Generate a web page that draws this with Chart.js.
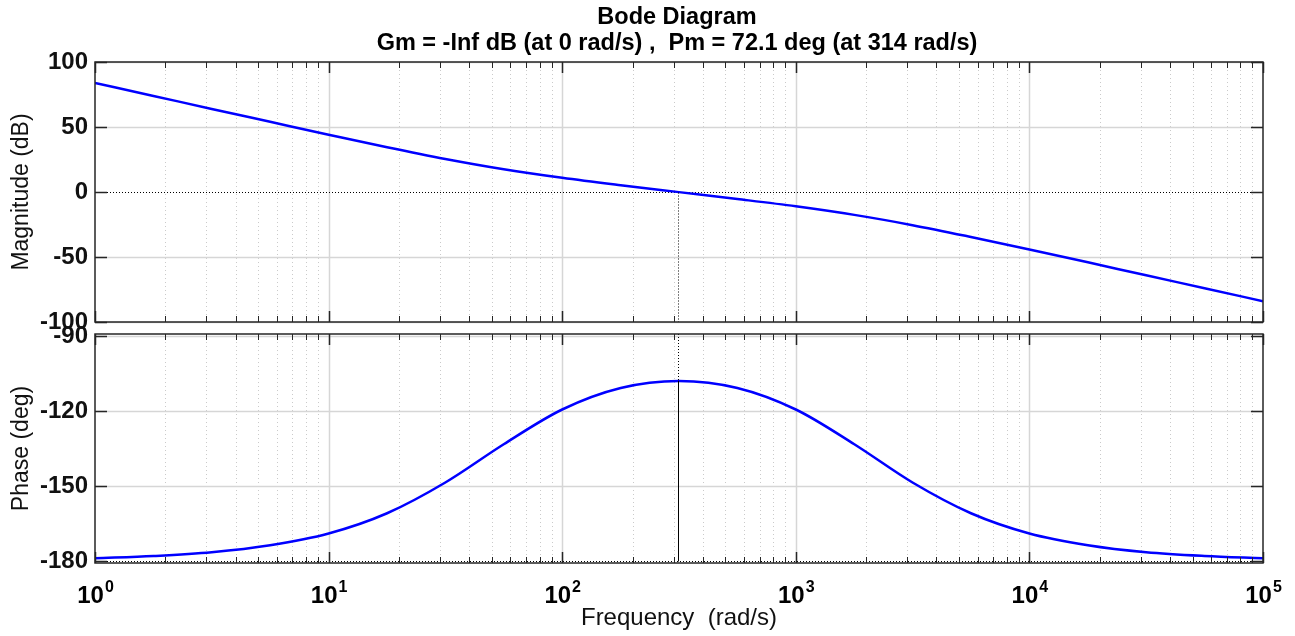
<!DOCTYPE html>
<html>
<head>
<meta charset="utf-8">
<script src="https://cdn.jsdelivr.net/npm/chart.js@4.4.0/dist/chart.umd.min.js"></script>
<style>
    html, body { margin: 0; padding: 0; background: #fff; }
    #wrap { position: relative; width: 1295px; height: 636px; }
    .box { position: absolute; left: 0; width: 1295px; }
    #magBox { top: 0; height: 340px; }
    #phaseBox { top: 300px; height: 336px; }
</style>
</head>
<body>
<div id="wrap">
    <div class="box" id="magBox"><canvas id="magChart" width="1295" height="340"></canvas></div>
    <div class="box" id="phaseBox"><canvas id="phaseChart" width="1295" height="336"></canvas></div>
</div>
<script>
// values (rad/s, dB, deg)
const freqs = [1, 1.78, 3.16, 5.62, 10, 17.8, 31.6, 56.2, 100, 178, 316, 562, 1000, 1780, 3160, 5620, 10000, 17800, 31600, 56200, 100000];
const magDb = [83.9, 73.9, 63.9, 54.0, 44.1, 34.4, 25.4, 17.5, 10.9, 5.2, -0.1, -5.4, -11.0, -17.6, -25.5, -34.6, -44.2, -54.1, -64.1, -74.0, -84.0];
const phaseDeg = [-178.9, -178.0, -176.5, -173.7, -169.0, -160.9, -148.6, -133.3, -119.4, -110.8, -108.0, -110.8, -119.4, -133.3, -148.6, -160.9, -169.0, -173.7, -176.5, -178.0, -178.9];

const decades = [1, 10, 100, 1000, 10000, 100000];
const magTicks = [-100, -50, 0, 50, 100];
const phaseTicks = [-180, -150, -120, -90];
const pmFreq = 314;
const pmDeg = 72.1;
const titleLines = ['Bode Diagram', 'Gm = -Inf dB (at 0 rad/s) ,  Pm = 72.1 deg (at 314 rad/s)'];

const FONT = "'Liberation Sans', Arial, sans-serif";
Chart.defaults.font.family = FONT;

const minorFreqs = [];
decades.slice(0, -1).forEach(d => {
    for (let k = 2; k <= 9; k++) minorFreqs.push(d * k);
});

const px = (s, v) => Math.round(s.getPixelForValue(v)) + 0.5;

function vline(ctx, x, y0, y1) {
    ctx.beginPath(); ctx.moveTo(x, y0); ctx.lineTo(x, y1); ctx.stroke();
}
function hline(ctx, x0, x1, y) {
    ctx.beginPath(); ctx.moveTo(x0, y); ctx.lineTo(x1, y); ctx.stroke();
}

// MATLAB-like grid, box, inward ticks and margin markers
const bodeAxes = {
    id: 'bodeAxes',
    beforeDatasetsDraw(chart, args, opts) {
        const { ctx, chartArea: a, scales: { x, y } } = chart;
        ctx.save();
        ctx.lineWidth = 1;
        ctx.strokeStyle = '#cacaca';
        ctx.setLineDash([1, 3]);
        minorFreqs.forEach(f => vline(ctx, px(x, f), a.top, a.bottom));
        ctx.setLineDash([]);
        ctx.strokeStyle = '#d6d6d6';
        ctx.lineWidth = 1.5;
        decades.slice(1, -1).forEach(f => vline(ctx, px(x, f), a.top, a.bottom));
        opts.ticks.forEach(v => {
            if (v !== opts.refLine) hline(ctx, a.left, a.right, px(y, v));
        });
        ctx.strokeStyle = '#000';
        ctx.lineWidth = 1;
        ctx.setLineDash([1, 2]);
        hline(ctx, a.left, a.right, px(y, opts.refLine));
        ctx.restore();
    },
    afterDatasetsDraw(chart, args, opts) {
        const { ctx, chartArea: a, scales: { x, y } } = chart;
        ctx.save();
        const xm = px(x, pmFreq);
        ctx.strokeStyle = '#000';
        ctx.lineWidth = 1;
        ctx.setLineDash([1, 2]);
        if (opts.kind === 'mag') {
            vline(ctx, xm, px(y, 0), a.bottom);
        } else {
            const yp = y.getPixelForValue(-180 + pmDeg);
            vline(ctx, xm, a.top, yp);
            ctx.setLineDash([]);
            vline(ctx, xm, yp, px(y, -180));
        }
        ctx.setLineDash([]);

        // inward ticks
        ctx.strokeStyle = '#262626';
        ctx.lineWidth = 1;
        minorFreqs.forEach(f => {
            const xx = px(x, f);
            vline(ctx, xx, a.top, a.top + 6);
            vline(ctx, xx, a.bottom, a.bottom - 6);
        });
        ctx.lineWidth = 1.5;
        decades.forEach(f => {
            const xx = px(x, f);
            vline(ctx, xx, a.top, a.top + 11);
            vline(ctx, xx, a.bottom, a.bottom - 11);
        });
        opts.ticks.forEach(v => {
            const yy = px(y, v);
            hline(ctx, a.left, a.left + 12, yy);
            hline(ctx, a.right, a.right - 12, yy);
        });

        ctx.strokeStyle = '#262626';
        ctx.lineWidth = 1.5;
        ctx.strokeRect(a.left, a.top, a.right - a.left, a.bottom - a.top);
        ctx.restore();
    },
    afterDraw(chart, args, opts) {
        const { ctx, chartArea: a, scales: { x } } = chart;
        ctx.save();
        ctx.fillStyle = '#000';
        if (opts.kind === 'mag') {
            ctx.textAlign = 'center';
            ctx.textBaseline = 'alphabetic';
            ctx.font = 'bold 23.5px ' + FONT;
            const cx = (a.left + a.right) / 2;
            ctx.fillText(titleLines[0], cx - 2, 24);
            ctx.fillText(titleLines[1], cx - 2, 50);
        } else {
            // 10^k labels with raised exponent
            ctx.textAlign = 'left';
            ctx.textBaseline = 'alphabetic';
            decades.forEach(d => {
                const expo = String(Math.round(Math.log10(d)));
                ctx.font = 'bold 24px ' + FONT;
                const wb = ctx.measureText('10').width;
                ctx.font = 'bold 16px ' + FONT;
                const we = ctx.measureText(expo).width;
                const x0 = x.getPixelForValue(d) - (wb + we) / 2;
                ctx.font = 'bold 24px ' + FONT;
                ctx.fillText('10', x0, a.bottom + 40);
                ctx.font = 'bold 16px ' + FONT;
                ctx.fillText(expo, x0 + wb + 1, a.bottom + 29);
            });
        }
        ctx.restore();
    }
};

const lineSet = (values) => ({
    data: freqs.map((f, i) => ({ x: f, y: values[i] })),
    borderColor: '#0000ff',
    borderWidth: 2.5,
    pointRadius: 0,
    cubicInterpolationMode: 'monotone',
    fill: false
});

const yAxis = (min, max, ticks, title) => ({
    type: 'linear',
    min: min,
    max: max,
    afterBuildTicks: s => { s.ticks = ticks.map(v => ({ value: v })); },
    afterFit: s => { s.width = 95; s.paddingTop = 0; s.paddingBottom = 0; },
    grid: { display: false, drawTicks: false },
    border: { display: false },
    ticks: { color: '#111', padding: 7, font: { size: 24, weight: 'bold' } },
    title: { display: true, text: title, color: '#111', font: { size: 23 }, padding: { top: 8, bottom: 0 } }
});

new Chart(document.getElementById('magChart'), {
    type: 'line',
    data: { datasets: [lineSet(magDb)] },
    options: {
        responsive: false,
        animation: false,
        layout: { padding: { top: 62, right: 32, bottom: 18, left: 0 } },
        scales: {
            x: { type: 'logarithmic', min: 1, max: 100000, display: false },
            y: yAxis(-100, 100, magTicks, 'Magnitude (dB)')
        },
        plugins: {
            legend: { display: false },
            tooltip: { enabled: false },
            bodeAxes: { kind: 'mag', ticks: magTicks, refLine: 0 }
        }
    },
    plugins: [bodeAxes]
});

new Chart(document.getElementById('phaseChart'), {
    type: 'line',
    data: { datasets: [lineSet(phaseDeg)] },
    options: {
        responsive: false,
        animation: false,
        layout: { padding: { top: 34, right: 32, bottom: 0, left: 0 } },
        scales: {
            x: {
                type: 'logarithmic',
                min: 1,
                max: 100000,
                afterFit: s => { s.height = 73; s.paddingLeft = 0; s.paddingRight = 0; },
                grid: { display: false, drawTicks: false },
                border: { display: false },
                ticks: { display: false },
                title: { display: true, text: 'Frequency  (rad/s)', color: '#111', font: { size: 24 }, padding: { top: 0, bottom: 3 } }
            },
            y: yAxis(-180.8, -89.2, phaseTicks, 'Phase (deg)')
        },
        plugins: {
            legend: { display: false },
            tooltip: { enabled: false },
            bodeAxes: { kind: 'phase', ticks: phaseTicks, refLine: -180 }
        }
    },
    plugins: [bodeAxes]
});
</script>
</body>
</html>
